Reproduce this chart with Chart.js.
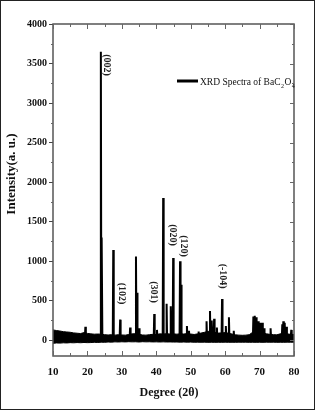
<!DOCTYPE html>
<html lang="en">

<head>
    <meta charset="UTF-8">
    <title>XRD Spectra of BaC2O4</title>
    <script src="https://cdn.jsdelivr.net/npm/chart.js@4.4.1/dist/chart.umd.min.js"></script>
    <style>
        body { margin: 0; background: #fff; }
    </style>
</head>

<body>
    <canvas id="myChart" width="315" height="410"></canvas>

    <script>
        // Axis ticks
        var xTicks = [10, 20, 30, 40, 50, 60, 70, 80];
        var yTicks = [0, 500, 1000, 1500, 2000, 2500, 3000, 3500, 4000];

        // Noise band of the baseline, read at every degree
        var bandDeg = [10, 11, 12, 13, 14, 15, 16, 17, 18, 19, 20, 21, 22, 23, 24, 25, 26, 27, 28, 29,
            30, 31, 32, 33, 34, 35, 36, 37, 38, 39, 40, 41, 42, 43, 44, 45, 46, 47, 48, 49,
            50, 51, 52, 53, 54, 55, 56, 57, 58, 59, 60, 61, 62, 63, 64, 65, 66, 67, 68, 69,
            70, 71, 72, 73, 74, 75, 76, 77, 78, 79, 80];
        var bandHigh = [130, 122, 116, 108, 104, 100, 92, 88, 84, 96, 86, 80, 76, 78, 76, 70, 66, 70, 64, 70,
            66, 64, 72, 80, 82, 74, 66, 64, 70, 74, 72, 80, 78, 82, 78, 80, 76, 82, 78, 84,
            78, 72, 80, 90, 100, 112, 108, 100, 90, 92, 96, 88, 78, 68, 64, 62, 64, 70, 100, 112,
            102, 90, 80, 74, 70, 68, 80, 92, 80, 74, 72];
        var bandLow = [-40, -35, -37, -33, -35, -31, -33, -30, -32, -29, -31, -30, -27, -29, -25, -27, -23, -25, -21, -23,
            -20, -22, -19, -21, -20, -23, -19, -21, -20, -22, -21, -23, -21, -23, -22, -24, -23, -25, -23, -25,
            -24, -26, -25, -26, -25, -27, -26, -27, -26, -27, -25, -27, -26, -27, -25, -26, -25, -27, -26, -27,
            -26, -27, -25, -26, -25, -27, -26, -27, -25, -26, -25];

        // Diffraction peaks: position (degree) and intensity
        var peakDeg = [19.4, 23.9, 24.2, 27.5, 29.5, 32.4, 34.1, 34.4, 35.0, 39.4, 40.2, 42.0, 43.0, 44.2, 44.9,
            46.9, 47.2, 48.9, 49.5, 52.3, 54.6, 55.6, 56.1, 56.8, 57.6, 59.1, 60.2, 61.1, 62.5,
            68.2, 68.6, 69.0, 69.6, 70.3, 70.8, 71.3, 73.2, 76.6, 76.9, 77.3, 77.8, 79.2];
        var peakVal = [170, 3650, 1300, 1140, 260, 160, 1060, 600, 150, 330, 130, 1800, 460, 430, 1040,
            1000, 700, 180, 120, 110, 240, 370, 250, 270, 160, 520, 180, 290, 120,
            300, 310, 290, 240, 220, 220, 150, 150, 200, 240, 220, 170, 130];

        // Peak labels (Miller indices) and where they sit
        var hklText = ["(002)", "(102)", "(301)", "(020)", "(120)", "(-104)"];
        var hklDeg = [25.7, 29.8, 39.3, 44.6, 47.8, 59.4];
        var hklVal = [3480, 590, 610, 1330, 1190, 810];

        // Build the peak line: baseline - top - baseline for each peak
        var peakPoints = [{ x: 10, y: 40 }];
        for (var i = 0; i < peakDeg.length; i++) {
            peakPoints.push({ x: peakDeg[i] - 0.14, y: 30 });
            peakPoints.push({ x: peakDeg[i], y: peakVal[i] });
            peakPoints.push({ x: peakDeg[i] + 0.14, y: 30 });
        }
        peakPoints.push({ x: 80, y: 30 });

        var lowPoints = bandDeg.map(function (d, i) { return { x: d, y: bandLow[i] }; });
        var highPoints = bandDeg.map(function (d, i) { return { x: d, y: bandHigh[i] }; });

        var serif = "'Liberation Serif', 'DejaVu Serif', serif";

        // Frame, inward ticks, peak labels, legend, axis titles
        var decorations = {
            id: "decorations",
            afterDraw: function (chart) {
                var ctx = chart.ctx;
                var a = chart.chartArea;
                var xs = chart.scales.x;
                var ys = chart.scales.y;
                ctx.save();

                // plot frame
                ctx.strokeStyle = "#555";
                ctx.lineWidth = 1.5;
                ctx.strokeRect(a.left, a.top, a.right - a.left, a.bottom - a.top);

                // inward ticks on bottom and top, every 5 degrees
                ctx.lineWidth = 1;
                ctx.strokeStyle = "#666";
                for (var d = 10; d <= 80; d += 5) {
                    var px = Math.round(xs.getPixelForValue(d)) + 0.5;
                    var len = d % 10 === 0 ? 5 : 3;
                    ctx.beginPath();
                    ctx.moveTo(px, a.bottom);
                    ctx.lineTo(px, a.bottom - len);
                    ctx.moveTo(px, a.top);
                    ctx.lineTo(px, a.top + len);
                    ctx.stroke();
                }
                // minor ticks on the left, inward ticks on the right
                for (var v = 0; v <= 4000; v += 250) {
                    var py = Math.round(ys.getPixelForValue(v)) + 0.5;
                    ctx.beginPath();
                    if (v % 500 !== 0) {
                        ctx.moveTo(a.left, py);
                        ctx.lineTo(a.left - 2, py);
                    }
                    ctx.moveTo(a.right, py);
                    ctx.lineTo(a.right - (v % 500 === 0 ? 4 : 2), py);
                    ctx.stroke();
                }

                // peak labels, rotated
                ctx.fillStyle = "#222";
                ctx.font = "bold 10px " + serif;
                ctx.textAlign = "center";
                ctx.textBaseline = "middle";
                for (var k = 0; k < hklText.length; k++) {
                    ctx.save();
                    ctx.translate(xs.getPixelForValue(hklDeg[k]), ys.getPixelForValue(hklVal[k]));
                    ctx.rotate(Math.PI / 2);
                    ctx.fillText(hklText[k], 0, 0);
                    ctx.restore();
                }

                // legend
                var lx = a.left + 124;
                var ly = a.top + 57;
                ctx.strokeStyle = "#000";
                ctx.lineWidth = 3;
                ctx.beginPath();
                ctx.moveTo(lx, ly);
                ctx.lineTo(lx + 21, ly);
                ctx.stroke();
                ctx.textAlign = "left";
                ctx.textBaseline = "alphabetic";
                ctx.fillStyle = "#111";
                var tx = lx + 23;
                var parts = [["XRD Spectra of BaC", 0], ["2", 1], ["O", 0], ["4", 1]];
                parts.forEach(function (p) {
                    ctx.font = (p[1] ? "6px " : "9.5px ") + serif;
                    ctx.fillText(p[0], tx, ly + 4 + (p[1] ? 3 : 0));
                    tx += ctx.measureText(p[0]).width + 0.5;
                });

                // axis titles
                ctx.fillStyle = "#111";
                ctx.font = "bold 12px " + serif;
                ctx.textAlign = "center";
                ctx.textBaseline = "middle";
                ctx.fillText("Degree (2\u03b8)", 169, 393);
                ctx.save();
                ctx.translate(12, 174);
                ctx.rotate(-Math.PI / 2);
                ctx.font = "bold 13px " + serif;
                ctx.fillText("Intensity(a. u.)", 0, 0);
                ctx.restore();

                // outer border of the picture
                ctx.strokeStyle = "#222";
                ctx.lineWidth = 1;
                ctx.strokeRect(0.5, 0.5, chart.width - 1, chart.height - 1);

                ctx.restore();
            }
        };

        var chart = new Chart(document.getElementById("myChart"), {
            type: "line",
            data: {
                datasets: [{
                    label: "band low",
                    data: lowPoints,
                    borderColor: "#000",
                    borderWidth: 1,
                    pointRadius: 0,
                    fill: false
                }, {
                    label: "band high",
                    data: highPoints,
                    borderColor: "#000",
                    backgroundColor: "#000",
                    borderWidth: 1,
                    pointRadius: 0,
                    fill: "-1"
                }, {
                    label: "XRD Spectra of BaC2O4",
                    data: peakPoints,
                    borderColor: "#000",
                    borderWidth: 2,
                    pointRadius: 0,
                    fill: false
                }]
            },
            options: {
                responsive: false,
                animation: false,
                layout: { padding: { top: 24, right: 21, left: 0, bottom: 0 } },
                plugins: {
                    legend: { display: false },
                    tooltip: { enabled: false }
                },
                scales: {
                    x: {
                        type: "linear",
                        min: 10,
                        max: 80,
                        afterBuildTicks: function (s) {
                            s.ticks = xTicks.map(function (v) { return { value: v }; });
                        },
                        afterFit: function (s) { s.height = 54; },
                        grid: { display: false, drawTicks: false },
                        border: { display: false },
                        ticks: {
                            padding: 10,
                            maxRotation: 0,
                            color: "#111",
                            font: { family: serif, size: 11, weight: "bold" },
                            callback: function (v) { return String(v); }
                        }
                    },
                    y: {
                        min: -200,
                        max: 4000,
                        afterBuildTicks: function (s) {
                            s.ticks = yTicks.map(function (v) { return { value: v }; });
                        },
                        afterFit: function (s) { s.width = 53; },
                        grid: { drawOnChartArea: false, tickLength: 4, color: "#444" },
                        border: { display: false },
                        ticks: {
                            padding: 2,
                            color: "#111",
                            font: { family: serif, size: 10, weight: "bold" },
                            callback: function (v) { return String(v); }
                        }
                    }
                }
            },
            plugins: [decorations]
        });
    </script>
</body>

</html>
